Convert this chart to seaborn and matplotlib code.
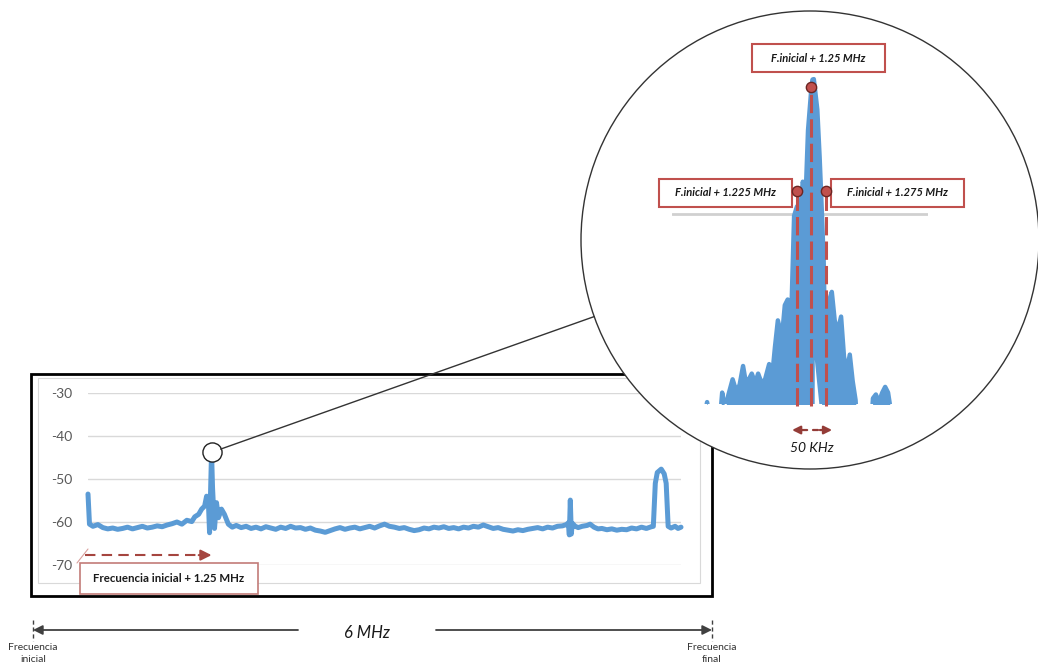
import math

import matplotlib
matplotlib.use("Agg")
import matplotlib.pyplot as plt
import numpy as np
import pandas as pd
import seaborn as sns
from matplotlib.patches import Circle, Rectangle

# ---------------------------------------------------------------------------
# Full 6 MHz sweep: frequency offset (MHz) and level (dB)
main_freq = [
    0.00, 0.015, 0.05, 0.10, 0.15, 0.20, 0.25, 0.30, 0.35, 0.40, 0.45, 0.50,
    0.55, 0.60, 0.65, 0.70, 0.75, 0.80, 0.85, 0.90, 0.95, 1.00, 1.05, 1.08,
    1.12, 1.15, 1.18, 1.20, 1.22, 1.23, 1.24, 1.25, 1.26, 1.28, 1.30, 1.32,
    1.35, 1.38, 1.42, 1.46, 1.50, 1.55, 1.60, 1.65, 1.70, 1.75, 1.80, 1.85,
    1.90, 1.95, 2.00, 2.05, 2.10, 2.15, 2.20, 2.25, 2.30, 2.35, 2.40, 2.45,
    2.50, 2.55, 2.60, 2.65, 2.70, 2.75, 2.80, 2.85, 2.90, 2.95, 3.00, 3.05,
    3.10, 3.15, 3.20, 3.25, 3.30, 3.35, 3.40, 3.45, 3.50, 3.55, 3.60, 3.65,
    3.70, 3.75, 3.80, 3.85, 3.90, 3.95, 4.00, 4.05, 4.10, 4.15, 4.20, 4.25,
    4.30, 4.35, 4.40, 4.45, 4.50, 4.55, 4.60, 4.65, 4.70, 4.75, 4.80, 4.84,
    4.86, 4.87, 4.88, 4.89, 4.90, 4.93, 4.96, 5.00, 5.05, 5.08, 5.12, 5.16,
    5.20, 5.25, 5.30, 5.35, 5.40, 5.45, 5.50, 5.55, 5.60, 5.65, 5.70, 5.72,
    5.74, 5.76, 5.80, 5.83, 5.85, 5.87, 5.90, 5.94, 5.97, 6.00,
]
main_level = [
    -53.5, -60.5, -61.0, -60.6, -61.3, -61.6, -61.4, -61.7, -61.5, -61.2, -61.6, -61.3,
    -61.0, -61.4, -61.2, -60.9, -61.1, -60.7, -60.4, -60.0, -60.5, -59.6, -59.9, -58.8,
    -58.2, -57.0, -56.3, -54.0, -56.5, -62.5, -53.0, -43.8, -52.0, -61.5, -55.5, -59.0,
    -57.0, -58.2, -60.5, -61.2, -60.8, -61.3, -61.0, -61.5, -61.2, -61.6, -61.1, -61.4,
    -61.7, -61.2, -61.5, -61.0, -61.4, -61.3, -61.7, -61.4, -61.9, -62.1, -62.4, -62.0,
    -61.6, -61.3, -61.7, -61.4, -61.2, -61.6, -61.3, -61.0, -61.4, -60.9, -60.5, -61.0,
    -61.2, -61.5, -61.3, -61.7, -62.0, -61.8, -61.4, -61.6, -61.2, -61.4, -61.1, -61.5,
    -61.3, -61.6, -61.2, -61.4, -61.0, -61.2, -60.7, -61.1, -61.5, -61.3, -61.7, -61.9,
    -62.1, -61.8, -62.0, -61.7, -61.5, -61.3, -61.6, -61.2, -61.4, -61.0, -60.9, -60.6,
    -60.2, -63.0, -54.9, -62.8, -60.3, -61.0, -61.3, -61.0, -60.8, -60.5, -61.2, -61.6,
    -61.5, -61.8, -61.6, -61.9, -61.7, -61.8, -61.4, -61.6, -61.2, -61.5, -61.1, -61.0,
    -51.0, -48.5, -47.7, -48.8, -51.0, -61.0, -61.4, -61.0, -61.5, -61.2,
]

# Fine sweep around the carrier: frequency (MHz), upper level and lower envelope (dB)
zoom_freq = [
    1.058, 1.070, 1.080, 1.089, 1.096, 1.101, 1.106, 1.114, 1.120, 1.126,
    1.132, 1.137, 1.142, 1.147, 1.153, 1.158, 1.164, 1.170, 1.177, 1.182,
    1.187, 1.192, 1.199, 1.204, 1.209, 1.215, 1.220, 1.225, 1.230, 1.235,
    1.240, 1.244, 1.250, 1.2515, 1.2520, 1.2540, 1.2600, 1.2640, 1.2680, 1.2710,
    1.2730, 1.2750, 1.280, 1.285, 1.290, 1.295, 1.301, 1.306, 1.311, 1.316,
    1.321, 1.326, 1.330, 1.342, 1.351, 1.356, 1.361, 1.366, 1.372, 1.377,
    1.382, 1.385,
]
zoom_level = [
    -62.0, -59.9, -62.0, -62.0, -59.4, -60.3, -59.6, -58.7, -59.3, -59.0,
    -58.0, -58.9, -58.7, -58.4, -58.9, -58.4, -58.9, -58.7, -57.9, -58.6,
    -57.0, -55.6, -56.5, -54.8, -54.5, -55.5, -50.1, -49.6, -50.0, -48.3,
    -49.0, -45.6, -43.3, -42.95, -42.92, -42.9, -44.5, -47.0, -50.0, -52.5,
    -56.0, -62.0, -54.6, -54.1, -55.6, -56.2, -55.4, -57.5, -58.3, -57.4,
    -58.8, -59.8, -62.0, -62.0, -62.0, -59.7, -59.5, -59.9, -59.4, -59.1,
    -59.4, -60.0,
]
zoom_floor = [
    -62.0, -62.0, -62.0, -62.0, -62.0, -62.0, -62.0, -62.0, -62.0, -62.0,
    -62.0, -62.0, -62.0, -62.0, -62.0, -62.0, -62.0, -62.0, -62.0, -62.0,
    -62.0, -62.0, -62.0, -62.0, -62.0, -62.0, -62.0, -62.0, -62.0, -62.0,
    -62.0, -62.0, -62.0, -62.0, -55.5, -56.0, -57.8, -59.0, -60.2, -61.1,
    -61.7, -62.0, -62.0, -62.0, -62.0, -62.0, -62.0, -62.0, -62.0, -62.0,
    -62.0, -62.0, -62.0, -62.0, -62.0, -62.0, -62.0, -62.0, -62.0, -62.0,
    -62.0, -62.0,
]

# Carrier markers in the fine sweep
marker_freq = [1.225, 1.250, 1.275]
marker_level = [-48.8, -43.3, -48.8]
marker_labels = ["F.inicial + 1.225 MHz", "F.inicial + 1.25 MHz", "F.inicial + 1.275 MHz"]

y_ticks = [-30, -40, -50, -60, -70]
y_tick_labels = ["-30", "-40", "-50", "-60", "-70"]

carrier_label = "Frecuencia inicial + 1.25 MHz"
spacing_label = "50 KHz"
span_label = "6 MHz"
start_label = "Frecuencia\ninicial"
end_label = "Frecuencia\nfinal"

# ---------------------------------------------------------------------------
BLUE = "#5B9BD5"
RED = "#C0504D"
DARK_RED = "#943C37"
GRID = "#D9D9D9"
INK = "#404040"

sns.set_theme(style="white")
plt.rcParams["font.family"] = ["Lato", "DejaVu Sans"]
plt.rcParams["axes.unicode_minus"] = False

W, H = 1038, 669
fig = plt.figure(figsize=(W / 100, H / 100), dpi=100)


def frac(x0, y0, x1, y1):
    """Pixel box (origin top-left) -> figure-fraction rectangle."""
    return [x0 / W, 1 - y1 / H, (x1 - x0) / W, (y1 - y0) / H]


# ---------------------------------------------------------------- main sweep
ax_main = fig.add_axes(frac(88, 393, 681, 565), zorder=1)
ax_main.patch.set_alpha(0)
df_main = pd.DataFrame({"freq": main_freq, "level": main_level})
sns.lineplot(data=df_main, x="freq", y="level", ax=ax_main, color=BLUE,
             lw=3.6, errorbar=None)
main_line = ax_main.lines[-1]
main_line.set_solid_joinstyle("round")
main_line.set_solid_capstyle("round")
main_line.set_clip_on(False)

ax_main.set_xlim(0, 6)
ax_main.set_ylim(-70, -30)
ax_main.set_yticks(y_ticks)
ax_main.set_yticklabels(y_tick_labels)
ax_main.set_xticks([])
ax_main.set_xlabel("")
ax_main.set_ylabel("")
ax_main.tick_params(axis="y", length=0, pad=11, labelsize=10, labelcolor="#595959")
ax_main.yaxis.grid(True, color=GRID, lw=1)
ax_main.xaxis.grid(False)
for s in ax_main.spines.values():
    s.set_visible(False)

# carrier highlight
pk = int(np.argmax(main_level))
peak_f, peak_l = main_freq[pk], main_level[pk]
ax_main.scatter([peak_f], [peak_l], s=190, facecolor="white", edgecolor="#222222",
                lw=1.0, zorder=5, clip_on=False)

# dashed arrow from the start of the band to the carrier
arrow_y = -67.7
ax_main.plot([main_freq[0] - 0.03, peak_f - 0.12], [arrow_y, arrow_y], color="#A5453F",
             lw=1.5, linestyle=(0, (5, 3)), clip_on=False)
ax_main.annotate("", xy=(peak_f, arrow_y), xytext=(peak_f - 0.13, arrow_y),
                 arrowprops=dict(arrowstyle="-|>", color="#A5453F", lw=1.5,
                                 mutation_scale=16, shrinkA=0, shrinkB=0),
                 annotation_clip=False)

# ------------------------------------------------------------ overlay layer
ax_over = fig.add_axes([0, 0, 1, 1], zorder=2)
ax_over.set_xlim(0, W)
ax_over.set_ylim(H, 0)
ax_over.axis("off")
ax_over.patch.set_alpha(0)

ax_over.add_patch(Rectangle((38, 378), 662, 205, fill=False, ec=GRID, lw=0.8, zorder=1))
ax_over.add_patch(Rectangle((31, 374), 681, 222, fill=False, ec="black", lw=2.0, zorder=2))

# carrier label box
ax_over.plot([77, 88], [563, 549], color="#D9A09D", lw=0.8, zorder=3)
ax_over.add_patch(Rectangle((80, 563), 178, 31, fc="white", ec="#C27C78", lw=1.2, zorder=3))
ax_over.text(169, 579, carrier_label, ha="center", va="center", fontsize=8.3,
             fontweight="bold", color="#1a1a1a", zorder=4)

# magnifier circle
cx, cy, R = 810, 240, 229
ax_over.add_patch(Circle((cx, cy), R, fc="white", ec="#333333", lw=1.0, zorder=5))

# connector from the highlighted carrier to the magnifier
px, py = ax_main.transData.transform((peak_f, peak_l))
py = H - py
ang = math.atan2(317 - cy, 593 - cx)
ex, ey = cx + R * math.cos(ang), cy + R * math.sin(ang)
d = math.hypot(ex - px, ey - py)
r_small = 9.7
sx, sy = px + (ex - px) * r_small / d, py + (ey - py) * r_small / d
ax_over.plot([sx, ex], [sy, ey], color="#333333", lw=1.0, zorder=6)

# marker label boxes
boxes = [(659, 179), (752, 44), (831, 179)]
for (bx, by), text in zip(boxes, marker_labels):
    ax_over.add_patch(Rectangle((bx, by), 133, 28, fc="white", ec=RED, lw=1.5, zorder=7))
    ax_over.text(bx + 66.5, by + 14, text, ha="center", va="center", fontsize=8,
                 fontweight="bold", fontstyle="italic", color="#1a1a1a", zorder=8)

# span annotation below the chart
span_y = 630
ax_over.vlines([33, 712], 620, 641, colors=INK, lw=1.0, linestyles=(0, (3, 2)), zorder=3)
ax_over.annotate("", xy=(33, span_y), xytext=(298, span_y),
                 arrowprops=dict(arrowstyle="-|>", color=INK, lw=1.3,
                                 mutation_scale=14, shrinkA=0, shrinkB=0))
ax_over.annotate("", xy=(712, span_y), xytext=(436, span_y),
                 arrowprops=dict(arrowstyle="-|>", color=INK, lw=1.3,
                                 mutation_scale=14, shrinkA=0, shrinkB=0))
ax_over.text(367, 633, span_label, ha="center", va="center", fontsize=12,
             fontstyle="italic", color="#1a1a1a")
ax_over.text(33, 643, start_label, ha="center", va="top", fontsize=7.5,
             color="#333333", linespacing=1.45)
ax_over.text(712, 643, end_label, ha="center", va="top", fontsize=7.5,
             color="#333333", linespacing=1.45)

# --------------------------------------------------------------- fine sweep
ax_zoom = fig.add_axes(frac(672.3, 62, 927.5, 404), zorder=3)
ax_zoom.patch.set_alpha(0)
ax_zoom.set_xlim(1.01, 1.45)
ax_zoom.set_ylim(-60, -42)
ax_zoom.axhline(-50, color="#D0D0D0", lw=2.0, zorder=0)

zf = np.array(zoom_freq)
zl = np.array(zoom_level)
zfl = np.array(zoom_floor)
ax_zoom.fill_between(zf, zl, zfl, color=BLUE, lw=0, zorder=1)
sns.lineplot(x=zoom_freq, y=zoom_level, ax=ax_zoom, color=BLUE, lw=3.2,
             errorbar=None, zorder=2)
zline = ax_zoom.lines[-1]
zline.set_solid_joinstyle("round")
zline.set_solid_capstyle("round")

# lower edge of the notch right after the carrier
raised = np.flatnonzero(zfl > -62.0)
seg = slice(raised[0] - 1, raised[-1] + 2)
ax_zoom.plot(zf[seg], zfl[seg], color=BLUE, lw=3.2, solid_joinstyle="round",
             solid_capstyle="round", zorder=2)

ax_zoom.vlines(marker_freq, -60.1, marker_level, colors=RED, lw=2.2,
               linestyles=(0, (6, 2)), zorder=3, clip_on=False)
ax_zoom.scatter(marker_freq, marker_level, s=55, facecolor=RED, edgecolor="#6B2522",
                lw=1.0, zorder=4, clip_on=False)

# 50 kHz spacing arrows
ay = -61.37
ax_zoom.annotate("", xy=(marker_freq[0] - 0.0085, ay), xytext=(marker_freq[1] - 0.0075, ay),
                 arrowprops=dict(arrowstyle="-|>", color=DARK_RED, lw=1.6,
                                 mutation_scale=12, shrinkA=0, shrinkB=0),
                 annotation_clip=False)
ax_zoom.plot([marker_freq[1] + 0.0025, marker_freq[1] + 0.0105], [ay, ay],
             color=DARK_RED, lw=1.6, clip_on=False)
ax_zoom.annotate("", xy=(marker_freq[2] + 0.0105, ay), xytext=(marker_freq[1] + 0.0145, ay),
                 arrowprops=dict(arrowstyle="-|>", color=DARK_RED, lw=1.6,
                                 mutation_scale=12, shrinkA=0, shrinkB=0),
                 annotation_clip=False)
ax_zoom.text(marker_freq[1], -62.3, spacing_label, ha="center", va="center",
             fontsize=10, fontstyle="italic", color="#1a1a1a")

ax_zoom.set_xlabel("")
ax_zoom.set_ylabel("")
ax_zoom.set_xticks([])
ax_zoom.set_yticks([])
for s in ax_zoom.spines.values():
    s.set_visible(False)

fig.savefig("out.png", dpi=100)
